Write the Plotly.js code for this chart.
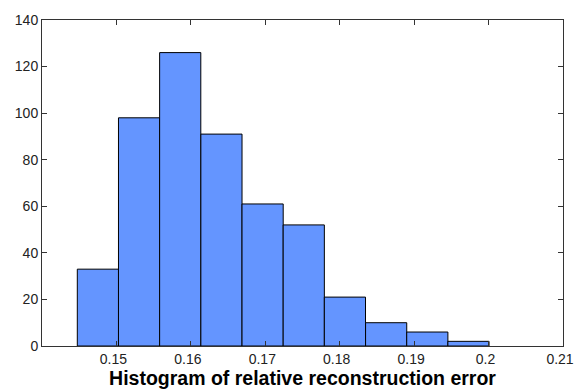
<!DOCTYPE html>
<html>
<head>
<meta charset="utf-8">
<script src="https://cdn.plot.ly/plotly-3.0.1.min.js"></script>
<style>html,body{margin:0;padding:0;background:#fff;}#chart{width:574px;height:391px;}</style>
</head>
<body>
<div id="chart"></div>
<script>
// Histogram bins (centers) and counts
const binCenters = [0.14751, 0.15304, 0.15857, 0.16411, 0.16964, 0.17517, 0.18070, 0.18624, 0.19177, 0.19730];
const counts = [33, 98, 126, 91, 61, 52, 21, 10, 6, 2];
const binWidth = 0.005532;
const xTickVals = [0.15, 0.16, 0.17, 0.18, 0.19, 0.2, 0.21];
const xTickText = ['0.15', '0.16', '0.17', '0.18', '0.19', '0.2', '0.21'];
const yTickVals = [0, 20, 40, 60, 80, 100, 120, 140];
const titleText = 'Histogram of relative reconstruction error';

const trace = {
  type: 'bar',
  x: binCenters,
  y: counts,
  width: binCenters.map(() => binWidth),
  marker: {color: '#6495FF', line: {color: '#000000', width: 1}},
  hoverinfo: 'x+y'
};

const axisCommon = {
  showgrid: false,
  zeroline: false,
  showline: true,
  linecolor: '#333333',
  linewidth: 1,
  mirror: 'ticks',
  ticks: 'inside',
  ticklen: 5,
  tickcolor: '#333333',
  ticklabeloverflow: 'allow',
  tickfont: {family: 'Liberation Sans, Arial, sans-serif', size: 14, color: '#222222'}
};

const layout = {
  width: 574,
  height: 391,
  margin: {l: 42, r: 11, t: 20, b: 45},
  paper_bgcolor: '#ffffff',
  plot_bgcolor: '#ffffff',
  showlegend: false,
  bargap: 0,
  xaxis: Object.assign({}, axisCommon, {
    range: [0.14, 0.2100001],
    tickmode: 'array',
    tickvals: xTickVals,
    ticktext: xTickText,
    ticklabelshift: -3,
    title: {text: '<b>' + titleText + '</b>', font: {family: 'Liberation Sans, Arial, sans-serif', size: 19.5, color: '#000000'}, standoff: 4}
  }),
  yaxis: Object.assign({}, axisCommon, {
    range: [0, 140],
    tickmode: 'array',
    tickvals: yTickVals
  })
};

Plotly.newPlot('chart', [trace], layout, {displayModeBar: false, staticPlot: true});
</script>
</body>
</html>
